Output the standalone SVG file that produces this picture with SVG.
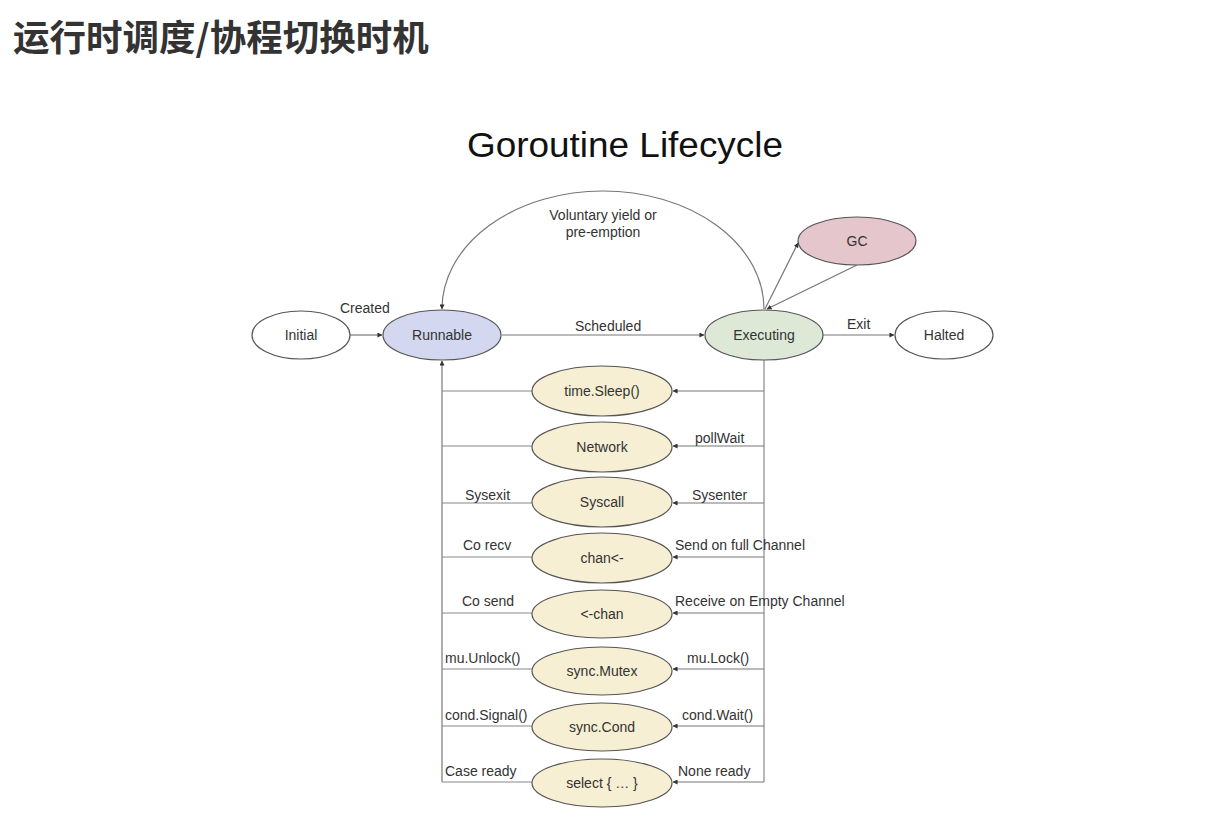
<svg xmlns="http://www.w3.org/2000/svg" width="1226" height="816" viewBox="0 0 1226 816">
<defs>
<marker id="arr" viewBox="0 0 6 6" refX="5.5" refY="3" markerWidth="5" markerHeight="5" orient="auto" markerUnits="userSpaceOnUse">
<path d="M0,0 L6,3 L0,6 z" fill="#333"/>
</marker>
</defs>
<style>
.title{font-family:"Noto Sans CJK SC","Liberation Sans",sans-serif;font-weight:bold;font-size:36.5px;fill:#333}
.h{font-family:"Liberation Sans",Arial,sans-serif;font-size:35px;fill:#111}
.t{font-family:"Liberation Sans",Arial,sans-serif;font-size:14px;fill:#333}
.n{font-family:"Liberation Sans",Arial,sans-serif;font-size:14px;fill:#333;text-anchor:middle}
.e{stroke:#555;stroke-width:1.2}
.plain{fill:#fff}
.blue{fill:#d3d8f0}
.green{fill:#dde8d6}
.pink{fill:#e5c6cc}
.yel{fill:#f6efd3}
.c{fill:none;stroke:#888;stroke-width:1.2}
.ca{fill:none;stroke:#777;stroke-width:1.2;marker-end:url(#arr)}
</style>
<rect width="1226" height="816" fill="#fff"/>
<text class="title" x="13" y="51">运行时调度/协程切换时机</text>
<text class="h" x="625" y="157" text-anchor="middle" textLength="316" lengthAdjust="spacingAndGlyphs">Goroutine Lifecycle</text>

<g id="connectors">
<path class="ca" d="M764 309 A161 118 0 0 0 442 309"/>
<line class="ca" x1="350" y1="335" x2="382" y2="335"/>
<line class="ca" x1="502" y1="335" x2="704" y2="335"/>
<line class="ca" x1="823" y1="335" x2="894" y2="335"/>
<line class="ca" x1="765" y1="309" x2="798" y2="243"/>
<line class="ca" x1="857" y1="265" x2="767" y2="309"/>
<line class="ca" x1="442" y1="782" x2="442" y2="361"/>
<line class="c" x1="764" y1="360" x2="764" y2="782"/>
<line class="c" x1="442" y1="391" x2="532" y2="391"/>
<line class="ca" x1="764" y1="391" x2="673" y2="391"/>
<line class="c" x1="442" y1="446" x2="532" y2="446"/>
<line class="ca" x1="764" y1="446" x2="673" y2="446"/>
<line class="c" x1="442" y1="503" x2="532" y2="503"/>
<line class="ca" x1="764" y1="503" x2="673" y2="503"/>
<line class="c" x1="442" y1="557" x2="532" y2="557"/>
<line class="ca" x1="764" y1="557" x2="673" y2="557"/>
<line class="c" x1="442" y1="613" x2="532" y2="613"/>
<line class="ca" x1="764" y1="613" x2="673" y2="613"/>
<line class="c" x1="442" y1="669" x2="532" y2="669"/>
<line class="ca" x1="764" y1="669" x2="673" y2="669"/>
<line class="c" x1="442" y1="726" x2="532" y2="726"/>
<line class="ca" x1="764" y1="726" x2="673" y2="726"/>
<line class="c" x1="442" y1="782" x2="532" y2="782"/>
<line class="ca" x1="764" y1="782" x2="673" y2="782"/>
<text class="n" x="603" y="220">Voluntary yield or</text>
<text class="n" x="603" y="237">pre-emption</text>
<text class="t" x="340" y="313">Created</text>
<text class="t" x="575" y="331">Scheduled</text>
<text class="t" x="847" y="329">Exit</text>
<text class="t" x="695" y="443">pollWait</text>
<text class="t" x="465" y="500">Sysexit</text>
<text class="t" x="692" y="500">Sysenter</text>
<text class="t" x="463" y="550">Co recv</text>
<text class="t" x="675" y="550">Send on full Channel</text>
<text class="t" x="462" y="606">Co send</text>
<text class="t" x="675" y="606">Receive on Empty Channel</text>
<text class="t" x="445" y="663">mu.Unlock()</text>
<text class="t" x="687" y="663">mu.Lock()</text>
<text class="t" x="445" y="720">cond.Signal()</text>
<text class="t" x="682" y="720">cond.Wait()</text>
<text class="t" x="445" y="776">Case ready</text>
<text class="t" x="678" y="776">None ready</text>
</g>

<g id="initial"><ellipse class="e plain" cx="301" cy="335" rx="49" ry="24"/><text class="n" x="301" y="340">Initial</text></g>
<g id="runnable"><ellipse class="e blue" cx="442" cy="335" rx="59" ry="25"/><text class="n" x="442" y="340">Runnable</text></g>
<g id="executing"><ellipse class="e green" cx="764" cy="335" rx="59" ry="25"/><text class="n" x="764" y="340">Executing</text></g>
<g id="halted"><ellipse class="e plain" cx="944" cy="335" rx="49" ry="24"/><text class="n" x="944" y="340">Halted</text></g>
<g id="gc"><ellipse class="e pink" cx="857" cy="241" rx="59" ry="24"/><text class="n" x="857" y="246">GC</text></g>
<g id="sleep"><ellipse class="e yel" cx="602" cy="391" rx="70" ry="25"/><text class="n" x="602" y="396">time.Sleep()</text></g>
<g id="network"><ellipse class="e yel" cx="602" cy="447" rx="70" ry="25"/><text class="n" x="602" y="452">Network</text></g>
<g id="syscall"><ellipse class="e yel" cx="602" cy="502" rx="70" ry="25"/><text class="n" x="602" y="507">Syscall</text></g>
<g id="chansend"><ellipse class="e yel" cx="602" cy="558" rx="70" ry="25"/><text class="n" x="602" y="563">chan&lt;-</text></g>
<g id="chanrecv"><ellipse class="e yel" cx="602" cy="614" rx="70" ry="24"/><text class="n" x="602" y="619">&lt;-chan</text></g>
<g id="mutex"><ellipse class="e yel" cx="602" cy="671" rx="70" ry="24"/><text class="n" x="602" y="676">sync.Mutex</text></g>
<g id="cond"><ellipse class="e yel" cx="602" cy="727" rx="70" ry="24"/><text class="n" x="602" y="732">sync.Cond</text></g>
<g id="select"><ellipse class="e yel" cx="602" cy="783" rx="70" ry="24"/><text class="n" x="602" y="788">select { … }</text></g>
</svg>
